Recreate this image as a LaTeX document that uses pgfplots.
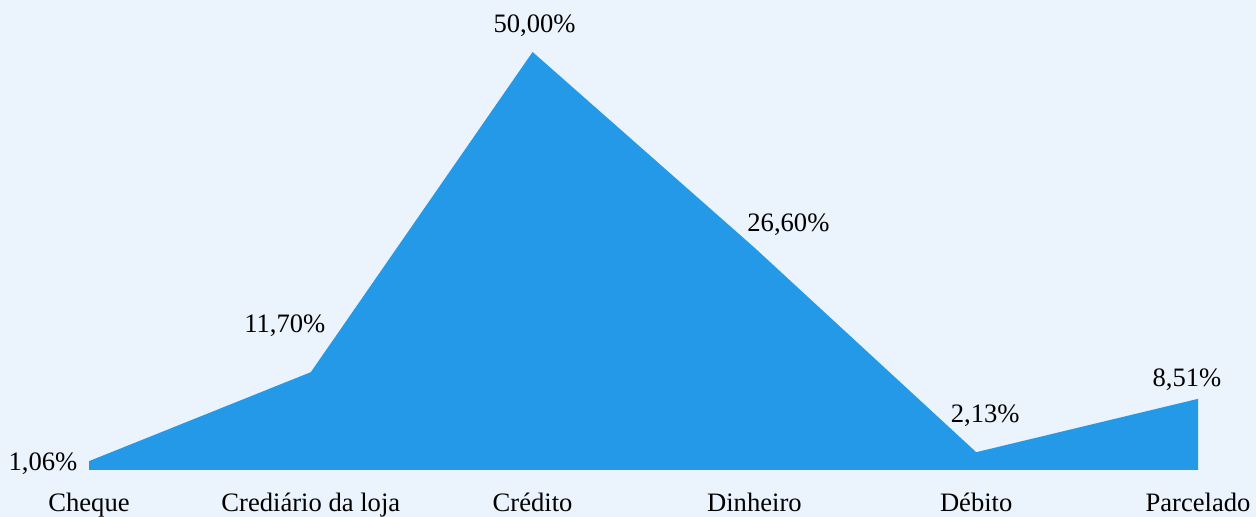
\documentclass[border=0pt]{standalone}
\usepackage{fontspec}
\setmainfont{Liberation Serif}
\usepackage{pgfplots}
\pgfplotsset{compat=1.18}
\definecolor{bgblue}{HTML}{EBF3FD}
\definecolor{areablue}{HTML}{2399E8}

\begin{document}
\fontsize{13.3}{15}\selectfont
\begin{tikzpicture}
\useasboundingbox (0,0) rectangle (628pt,258.5pt);
\fill[bgblue] (0,0) rectangle (628pt,258.5pt);
\begin{axis}[
    at={(44.5pt,23.5pt)}, anchor=south west,
    scale only axis,
    width=554.5pt, height=209pt,
    xmin=0, xmax=5,
    ymin=0, ymax=50,
    clip=false,
    axis line style={draw=none},
    major tick length=0pt,
    ytick=\empty,
    xtick={0,1,2,3,4,5},
    xticklabels={Cheque, Crediário da loja, Crédito, Dinheiro, Débito, Parcelado},
    xticklabel style={anchor=base, yshift=-21pt, font=\fontsize{13.3}{15}\selectfont},
]
\addplot[fill=areablue, draw=none] coordinates {
    (0, 1.06)
    (1, 11.70)
    (2, 50.00)
    (3, 26.60)
    (4, 2.13)
    (5, 8.51)
} \closedcycle;

\node[anchor=base, xshift=-23pt, yshift=-4.5pt] at (axis cs:0,1.06) {1,06\%};
\node[anchor=base, xshift=-13pt, yshift=20pt] at (axis cs:1,11.70) {11,70\%};
\node[anchor=base, xshift=1pt, yshift=9.5pt] at (axis cs:2,50.00) {50,00\%};
\node[anchor=base, xshift=17pt, yshift=8pt] at (axis cs:3,26.60) {26,60\%};
\node[anchor=base, xshift=4.5pt, yshift=15pt] at (axis cs:4,2.13) {2,13\%};
\node[anchor=base, xshift=-5.5pt, yshift=6pt] at (axis cs:5,8.51) {8,51\%};
\end{axis}
\end{tikzpicture}
\end{document}
